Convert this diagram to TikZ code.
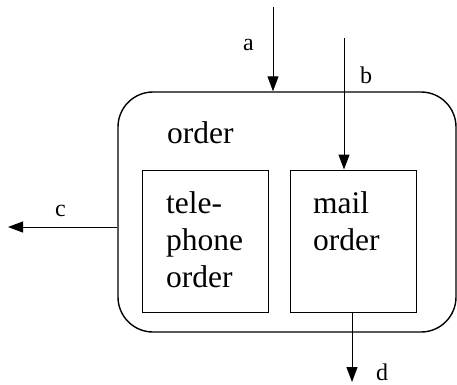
\documentclass[tikz,border=0pt]{standalone}
\usepackage{fontspec}
\setmainfont{Liberation Serif}
\usetikzlibrary{arrows.meta}
\begin{document}
\begin{tikzpicture}[x=1pt,y=-1pt,
  outerbox/.style={draw,line width=1.4pt,rounded corners=35pt,inner sep=0pt},
  innerbox/.style={draw,line width=1pt,inner sep=0pt,minimum width=126pt,minimum height=142pt},
  bigtext/.style={font=\fontsize{31.5}{37}\selectfont,inner sep=0pt,anchor=base west,align=left},
  lbl/.style={font=\fontsize{24}{28}\selectfont,inner sep=0pt,anchor=base west},
  flow/.style={line width=1pt,-{Triangle[length=15pt,width=11pt]}}]
\useasboundingbox (0,0) rectangle (457,384);
\node[outerbox,minimum width=338pt,minimum height=240pt] (outer) at (287,212) {};
\node[innerbox] (tel) at (205,241) {};
\node[innerbox] (mail) at (353,241) {};
\node[bigtext] (title) at (167,143) {order};
\node[bigtext] (teltext) at (166,287) {tele-\\phone\\order};
\node[bigtext] (mailtext) at (313,250) {mail\\order};
\coordinate (astart) at (273,7);
\coordinate (bstart) at (344,38);
\coordinate (cend) at (8,227);
\coordinate (dend) at (352,382);
\draw[flow] (astart) -- (astart |- outer.north);
\draw[flow] (bstart) -- (bstart |- mail.north);
\draw[flow] (outer.west |- cend) -- (cend);
\draw[flow] (dend |- mail.south) -- (dend);
\node[lbl] (la) at (243,50) {a};
\node[lbl] (lb) at (360,83) {b};
\node[lbl] (lc) at (55,216) {c};
\node[lbl] (ld) at (376,380) {d};
\end{tikzpicture}
\end{document}
